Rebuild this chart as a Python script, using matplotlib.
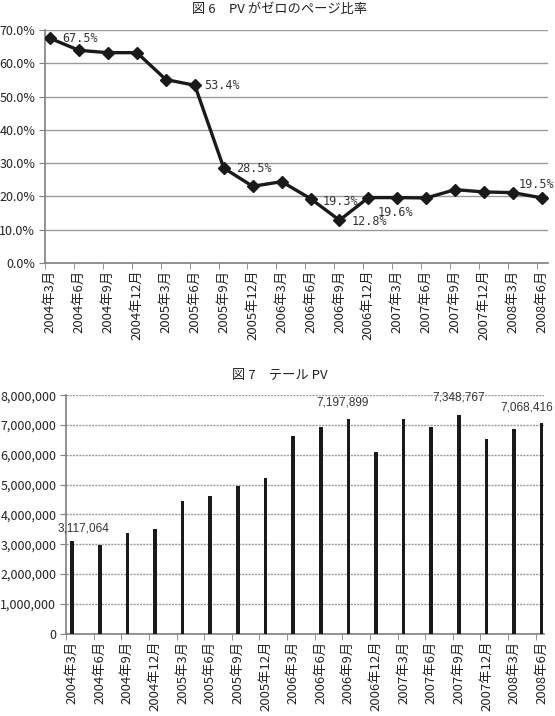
import numpy as np
import matplotlib
matplotlib.use("Agg")
import matplotlib.pyplot as plt
from matplotlib.ticker import FuncFormatter

plt.rcParams['font.family'] = ['Noto Sans CJK JP', 'DejaVu Sans']

# data
months = ["2004年3月", "2004年6月", "2004年9月", "2004年12月", "2005年3月", "2005年6月",
          "2005年9月", "2005年12月", "2006年3月", "2006年6月", "2006年9月", "2006年12月",
          "2007年3月", "2007年6月", "2007年9月", "2007年12月", "2008年3月", "2008年6月"]
zero_pv_ratio = [67.5, 63.9, 63.2, 63.2, 55.1, 53.4, 28.5, 23.0, 24.4, 19.3, 12.8, 19.6,
                 19.6, 19.5, 22.0, 21.3, 21.1, 19.5]
tail_pv = [3117064, 2960000, 3380000, 3510000, 4440000, 4620000, 4940000, 5210000,
           6640000, 6920000, 7197899, 6090000, 7200000, 6950000, 7348767, 6520000,
           6870000, 7068416]
ratio_labels = {0: "67.5%", 5: "53.4%", 6: "28.5%", 9: "19.3%", 10: "12.8%",
                11: "19.6%", 17: "19.5%"}
pv_labels = {0: "3,117,064", 10: "7,197,899", 14: "7,348,767", 17: "7,068,416"}

grid_c = "#9a9a9a"
axis_c = "#808080"
txt_c = "#222222"
x = np.arange(len(months))

fig = plt.figure(figsize=(5.55, 7.16), dpi=100)

# ---- figure 6 : line chart
ax1 = fig.add_axes([0.081, 0.633, 0.906, 0.325])
ax1.plot(x, zero_pv_ratio, color="#1a1a1a", lw=2.4, marker="D", ms=6.5, zorder=3)
ax1.set_yticks(np.arange(0, 71, 10))
ax1.yaxis.set_major_formatter(FuncFormatter(lambda v, p: f"{v:.1f}%"))
ax1.grid(axis="y", color=grid_c, lw=1.0)
ax1.set_axisbelow(True)

offsets1 = {0: (9, 0, "left"), 5: (7, 0, "left"), 6: (9, 0, "left"), 9: (9, -2, "left"),
            10: (9, -1, "left"), 11: (7, -11, "left"), 17: (-4, 10, "center")}
for i, lab in ratio_labels.items():
    dx, dy, ha = offsets1[i]
    ax1.annotate(lab, (x[i], zero_pv_ratio[i]), xytext=(dx, dy), textcoords="offset points",
                 ha=ha, va="center", fontsize=8.5, color="#333333", family="DejaVu Sans Mono",
                 annotation_clip=False)

# ---- figure 7 : bar chart
ax2 = fig.add_axes([0.119, 0.115, 0.861, 0.333])
ax2.bar(x, tail_pv, width=0.13, color="#1a1a1a", zorder=3)
ax2.set_yticks(np.arange(0, 8000001, 1000000))
ax2.yaxis.set_major_formatter(FuncFormatter(lambda v, p: f"{int(v):,}"))
ax2.grid(axis="y", color=grid_c, lw=1.0, ls=(0, (1.5, 0.8)))
ax2.set_axisbelow(True)

offsets2 = {0: (8, 9), 10: (-4, 12), 14: (0, 12), 17: (-11, 11)}
for i, lab in pv_labels.items():
    dx, dy = offsets2[i]
    ax2.annotate(lab, (x[i], tail_pv[i]), xytext=(dx, dy), textcoords="offset points",
                 ha="center", va="center", fontsize=8.5, color="#333333",
                 family="Liberation Sans", annotation_clip=False)

for ax, shift in ((ax1, 0.18), (ax2, 0.22)):
    ax.set_xticks(x)
    ax.set_xticklabels(months, rotation=90, fontsize=9.5, color=txt_c)
    ax.tick_params(axis="x", which="major", length=0, pad=5)
    ax.set_xticks(x - shift, minor=True)
    ax.tick_params(axis="x", which="minor", length=4, color=axis_c)
    ax.tick_params(axis="y", length=4, color=axis_c, labelsize=9, labelcolor=txt_c, pad=3)
    for s in ("top", "right"):
        ax.spines[s].set_visible(False)
    for s in ("left", "bottom"):
        ax.spines[s].set_color(axis_c)
        ax.spines[s].set_linewidth(1.2)

# limits after ticks so they are not widened
ax1.set_xlim(-0.18, 17.2)
ax1.set_ylim(0, 70)
ax2.set_xlim(-0.22, 17.08)
ax2.set_ylim(0, 8000000)

fig.text(0.503, 0.987, "図 6　PV がゼロのページ比率", ha="center", va="center",
         fontsize=9.5, color=txt_c)
fig.text(0.505, 0.475, "図 7　テール PV", ha="center", va="center",
         fontsize=9.5, color=txt_c)

fig.savefig("out.png", dpi=100)
